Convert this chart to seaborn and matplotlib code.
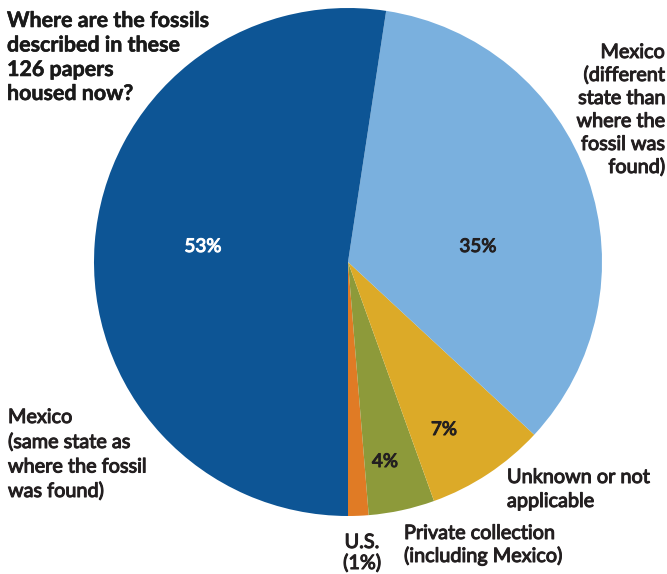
import matplotlib
matplotlib.use("Agg")
import matplotlib.pyplot as plt
import matplotlib.patheffects as pe
import seaborn as sns

sns.set_theme(style="white")
plt.rcParams['font.family'] = ['Lato', 'DejaVu Sans']

# Data in drawing order (counterclockwise from bottom)
categories = ["U.S.", "Private collection (including Mexico)", "Unknown or not applicable",
              "Mexico (different state than where the fossil was found)",
              "Mexico (same state as where the fossil was found)"]
shares = [1.3, 4.2, 7.6, 34.5, 52.4]
pct_labels = ["1%", "4%", "7%", "35%", "53%"]
colors = ["#e07b25", "#8d9a3a", "#dcaa28", "#7ab0de", "#0d5595"]

title_lines = ["Where are the fossils", "described in these", "126 papers", "housed now?"]
right_lines = ["Mexico", "(different", "state than", "where the", "fossil was", "found)"]
left_lines = ["Mexico", "(same state as", "where the fossil", "was found)"]
unk_lines = ["Unknown or not", "applicable"]
priv_lines = ["Private collection", "(including Mexico)"]
us_lines = ["U.S.", "(" + pct_labels[0] + ")"]

W, H = 667, 574
fig = plt.figure(figsize=(W / 100, H / 100), dpi=100)
ax = fig.add_axes([0, 0, 1, 1])

cx, cy, r = 348, 262, 254
ax.pie(shares, colors=colors, startangle=-90, counterclock=True,
       center=(cx, H - cy), radius=r, wedgeprops=dict(linewidth=0))
ax.set_xlim(0, W)
ax.set_ylim(0, H)
ax.set_aspect('equal')
ax.axis('off')

dark = "#231f20"
renderer = fig.canvas.get_renderer()


def fit_size(s, target_px, weight):
    t = fig.text(0, 0, s, fontsize=10, fontweight=weight)
    w = t.get_window_extent(renderer).width
    t.remove()
    return 10 * target_px / w


LW = 'normal'
STROKE = 0.75
label_size = sum([
    fit_size("(different", 82, LW),
    fit_size("where the fossil", 139, LW),
    fit_size("Unknown or not", 142, LW),
    fit_size("(including Mexico)", 160, LW),
]) / 4
title_size = fit_size("Where are the fossils", 203, 'bold')
pct_size = fit_size("35%", 37, LW)


def semi(color):
    return [pe.withStroke(linewidth=STROKE, foreground=color)]


def block(lines, x, baselines, ha, size, weight, color=dark, effects=None):
    for s, b in zip(lines, baselines):
        ax.text(x, H - b, s, ha=ha, va='baseline', fontsize=size,
                fontweight=weight, color=color, path_effects=effects)


block(title_lines, 7, [27, 51.5, 76, 100], 'left', title_size, 'bold', '#1a1a1a',
      [pe.withStroke(linewidth=0.4, foreground='#1a1a1a')])
block(right_lines, 665, [58, 81, 104, 127, 150, 173], 'right', label_size, LW, dark, semi(dark))
block(left_lines, 8, [423, 448, 472.5, 497], 'left', label_size, LW, dark, semi(dark))
block(unk_lines, 507, [483, 507], 'left', label_size, LW, dark, semi(dark))
block(priv_lines, 404, [539, 562], 'left', label_size, LW, dark, semi(dark))
block(us_lines, 362, [548, 569], 'center', label_size, LW, dark, semi(dark))

ax.text(203, H - 252, pct_labels[4], ha='center', va='baseline', fontsize=pct_size,
        fontweight=LW, color='white', path_effects=semi('white'))
for lab, (x, y) in zip(pct_labels[1:4], [(385, 467), (444, 435), (478, 252)]):
    ax.text(x, H - y, lab, ha='center', va='baseline', fontsize=pct_size,
            fontweight=LW, color=dark, path_effects=semi(dark))

fig.savefig("out.png", dpi=100)
